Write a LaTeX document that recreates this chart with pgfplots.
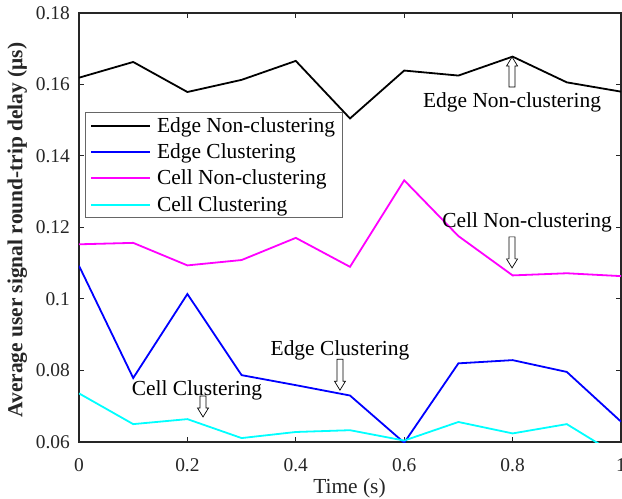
\documentclass[border=0pt]{standalone}
\usepackage{pgfplots}
\pgfplotsset{compat=1.18}
\usepackage{fontspec}
\setmainfont{Liberation Serif}
\definecolor{axgray}{RGB}{38,38,38}
\definecolor{pmag}{RGB}{255,0,255}
\definecolor{pcyan}{RGB}{0,255,255}
\definecolor{pblue}{RGB}{0,0,255}
\newcommand{\arrdown}[3]{% x, y of tip, shaft length
  \draw[fill=white,line width=0.7bp] (axis cs:#1,#2) -- ++(5.5bp,9bp) -- ++(-2.5bp,0bp) -- ++(0bp,#3) -- ++(-6bp,0bp) -- ++(0bp,-#3) -- ++(-2.5bp,0bp) -- cycle;}
\newcommand{\arrup}[3]{%
  \draw[fill=white,line width=0.7bp] (axis cs:#1,#2) -- ++(5.5bp,-9bp) -- ++(-2.5bp,0bp) -- ++(0bp,-#3) -- ++(-6bp,0bp) -- ++(0bp,#3) -- ++(-2.5bp,0bp) -- cycle;}
\begin{document}
\begin{tikzpicture}
\begin{axis}[
  at={(0,0)}, anchor=south west,
  scale only axis, width=542bp, height=429bp,
  xmin=0, xmax=1, ymin=0.06, ymax=0.18,
  xtick={0,0.2,0.4,0.6,0.8,1}, xticklabels={0,0.2,0.4,0.6,0.8,1},
  ytick={0.06,0.08,0.10,0.12,0.14,0.16,0.18},
  yticklabels={0.06,0.08,0.1,0.12,0.14,0.16,0.18},
  tick align=inside, major tick length=5bp,
  axis line style={axgray, line width=1.3bp},
  tick style={axgray, line width=1bp},
  ticklabel style={font=\fontsize{19.5}{20}\selectfont, text=axgray, inner sep=0pt},
  yticklabel style={anchor=east, xshift=-9bp},
  xticklabel style={anchor=north, yshift=-16bp},
  xlabel={Time (s)},
  ylabel={\bfseries Average user signal round-trip delay (μs)},
  label style={font=\fontsize{21.5}{22}\selectfont, text=axgray},
  xlabel style={at={(axis description cs:0.499,-0.107)}, anchor=center},
  ylabel style={at={(axis description cs:-0.114,0.494)}, anchor=center},
  legend style={at={(0.011,0.769)}, anchor=north west, draw=black!60, line width=0.7bp,
    font=\fontsize{21.5}{21.5}\selectfont, inner xsep=5bp, inner ysep=3bp, row sep=6bp},
  legend cell align=left,
  legend image code/.code={\draw[#1] (0bp,0bp) -- (59bp,0bp); \path (63bp,0bp);},
]
\addplot[black, line width=1.8bp] coordinates {
 (0,0.1619) (0.1,0.1663) (0.2,0.1579) (0.3,0.1613) (0.4,0.1666) (0.5,0.1505)
 (0.6,0.1639) (0.7,0.1625) (0.8,0.1678) (0.9,0.1606) (1.0,0.1580)};
\addlegendentry{Edge Non-clustering}
\addplot[pblue, line width=1.8bp] coordinates {
 (0,0.1093) (0.1,0.0779) (0.2,0.1014) (0.3,0.0787) (0.4,0.0759) (0.5,0.0730)
 (0.6,0.0598) (0.7,0.0820) (0.8,0.0829) (0.9,0.0796) (1.0,0.0657)};
\addlegendentry{Edge Clustering}
\addplot[pmag, line width=1.8bp] coordinates {
 (0,0.1153) (0.1,0.1157) (0.2,0.1094) (0.3,0.1109) (0.4,0.1171) (0.5,0.1090)
 (0.6,0.1332) (0.7,0.1176) (0.8,0.1066) (0.9,0.1072) (1.0,0.1064)};
\addlegendentry{Cell Non-clustering}
\addplot[pcyan, line width=1.8bp] coordinates {
 (0,0.0736) (0.1,0.0650) (0.2,0.0664) (0.3,0.0611) (0.4,0.0628) (0.5,0.0633)
 (0.6,0.0604) (0.7,0.0656) (0.8,0.0624) (0.9,0.0650) (1.0,0.0557)};
\addlegendentry{Cell Clustering}
\node[anchor=base, font=\fontsize{21.5}{22}\selectfont, inner sep=0pt] at (axis cs:0.799,0.1537) {Edge Non-clustering};
\node[anchor=base, font=\fontsize{21.5}{22}\selectfont, inner sep=0pt] at (axis cs:0.8266,0.1199) {Cell Non-clustering};
\node[anchor=base, font=\fontsize{21.5}{22}\selectfont, inner sep=0pt] at (axis cs:0.4815,0.0841) {Edge Clustering};
\node[anchor=base, font=\fontsize{21.5}{22}\selectfont, inner sep=0pt] at (axis cs:0.2177,0.0729) {Cell Clustering};
\arrup{0.799}{0.1677}{21bp}
\arrdown{0.799}{0.1087}{22bp}
\arrdown{0.4815}{0.0745}{22bp}
\arrdown{0.2288}{0.0670}{12bp}
\end{axis}
\pgfresetboundingbox
\useasboundingbox (-79bp,-57bp) rectangle (543bp,442bp);
\end{tikzpicture}
\end{document}
